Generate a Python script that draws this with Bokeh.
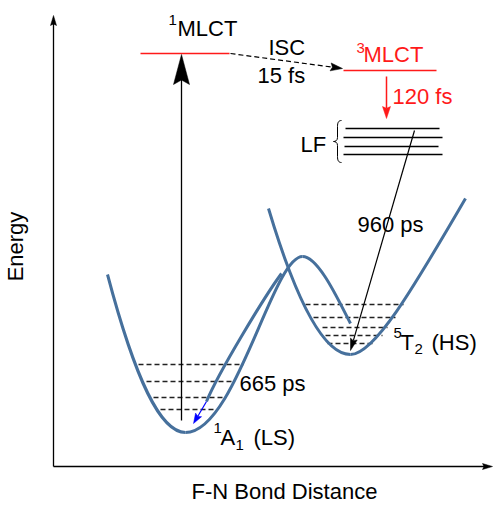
import numpy as np
from bokeh.plotting import figure
from bokeh.models import Range1d
from bokeh.core.properties import value
from bokeh.embed import file_html
from bokeh.resources import INLINE

# ---------------- data (schematic, in picture pixel units) ----------------
# potential-energy curves: cubic Bezier segments (start, ctrl1, ctrl2, end)
# 1A1 (LS) left arm, 1A1 right arm, 1A1 descent, 5T2 (HS) left arm, 5T2 right arm
curve_x0 = [107, 185, 302, 268, 350]
curve_y0 = [274, 432, 256, 208, 354]
curve_cx0 = [135, 235, 318, 297, 375]
curve_cy0 = [380, 432, 256, 305, 354]
curve_cx1 = [160, 272, 338, 324, 417]
curve_cy1 = [432, 256, 300, 354, 280]
curve_x1 = [185, 302, 350, 350, 465]
curve_y1 = [432, 256, 323, 354, 198]

# 665 ps relaxation path drawn along the 1A1 curve
relax_x = [281, 264, 218, 206]
relax_y = [273, 296, 372, 401]

# vibrational levels (dashed)
ls_lvl_y = [364, 381, 397, 409]
ls_lvl_x0 = [138, 146, 153, 160]
ls_lvl_x1 = [243, 232, 225, 215]
hs_lvl_y = [304, 317, 327, 335, 343]
hs_lvl_x0 = [305, 313, 322, 325, 327]
hs_lvl_x1 = [403, 395, 387, 382, 373]

# ligand-field manifold
lf_y = [128, 137, 146, 154]
lf_x0 = [345, 343, 344, 343]
lf_x1 = [439, 442, 438, 442]
lf_brace = dict(x=337, top=120, bottom=162)

# MLCT states (red levels)
mlct_y = [53, 70]
mlct_x0 = [140, 343]
mlct_x1 = [229, 436]

# arrows: start -> end
arrow_x0 = [181, 230, 386, 414, 206, 53, 53]
arrow_y0 = [420, 53, 76, 130, 401, 466, 466]
arrow_x1 = [181, 342, 386, 350, 193, 53, 492]
arrow_y1 = [54, 68, 118, 350, 423, 15, 466]
arrow_color = ["black", "black", "#ff1a1a", "black", "#0000ff", "black", "black"]
arrow_width = [1.3, 1.2, 1.5, 1.2, 1.2, 1.3, 1.3]
arrow_dash = ["solid", "5 3", "solid", "solid", "solid", "solid", "solid"]
head_len = [30, 12, 12, 12, 10, 10, 10]
head_wid = [16, 8, 8, 7, 7, 6, 6]

# texts (x = left edge, y = baseline)
label_text = ["MLCT", "1", "ISC", "15 fs", "MLCT", "3", "120 fs", "LF", "960 ps",
              "665 ps", "1", "A", "1", "(LS)", "5", "T", "2", "(HS)"]
label_x = [177, 168, 268, 257, 363, 356, 392, 300, 357, 239, 213, 220, 235, 253,
           393, 400, 414, 431]
label_y = [36, 25, 55, 83, 62, 53, 104, 152, 232, 391, 433, 445, 450, 445,
           338, 350, 354, 350]
label_size = [22, 15, 22, 22, 22, 15, 22, 22, 22, 22, 15, 22, 15, 22, 15, 22, 15, 22]
label_color = ["black", "black", "black", "black", "#ff1a1a", "#ff1a1a", "#ff1a1a",
               "black", "black", "black", "black", "black", "black", "black",
               "black", "black", "black", "black"]

axis_x_title = "F-N Bond Distance"
axis_y_title = "Energy"

# ---------------- figure ----------------
FONT = value("Liberation Sans")
CURVE = "#46709c"
BASE_SHIFT = 0.38   # renderer's baseline offset, as a fraction of font size

p = figure(width=493, height=505, x_range=Range1d(0, 493), y_range=Range1d(505, 0),
           output_backend="svg", toolbar_location=None, min_border=0,
           x_axis_location=None, y_axis_location=None)
p.grid.visible = False
p.outline_line_color = None
p.background_fill_color = "white"
p.border_fill_color = "white"

# dashed vibrational levels
p.segment(x0=ls_lvl_x0, y0=ls_lvl_y, x1=ls_lvl_x1, y1=ls_lvl_y,
          line_color="#222222", line_width=1.4, line_dash="5 3")
p.segment(x0=hs_lvl_x0, y0=hs_lvl_y, x1=hs_lvl_x1, y1=hs_lvl_y,
          line_color="#222222", line_width=1.4, line_dash="5 3")

# potential energy curves
p.bezier(x0=curve_x0, y0=curve_y0, x1=curve_x1, y1=curve_y1,
         cx0=curve_cx0, cy0=curve_cy0, cx1=curve_cx1, cy1=curve_cy1,
         line_color=CURVE, line_width=3)
p.bezier(x0=[relax_x[0]], y0=[relax_y[0]], cx0=[relax_x[1]], cy0=[relax_y[1]],
         cx1=[relax_x[2]], cy1=[relax_y[2]], x1=[relax_x[3]], y1=[relax_y[3]],
         line_color=CURVE, line_width=3)

# LF manifold
p.segment(x0=lf_x0, y0=lf_y, x1=lf_x1, y1=lf_y, line_color="black", line_width=1.5)
bx, bt, bb = lf_brace["x"], lf_brace["top"], lf_brace["bottom"]
bm = (bt + bb) / 2
p.bezier(x0=[bx + 4, bx, bx, bx + 4], y0=[bt, bm - 4, bm + 4, bb],
         cx0=[bx + 1, bx, bx, bx + 1], cy0=[bt, bm - 1, bm + 1, bb],
         cx1=[bx, bx - 2, bx - 2, bx], cy1=[bt + 2, bm, bm, bb - 2],
         x1=[bx, bx - 4, bx - 4, bx], y1=[bt + 6, bm, bm, bb - 6],
         line_color="black", line_width=1)
p.segment(x0=[bx, bx], y0=[bt + 6, bm + 4], x1=[bx, bx], y1=[bm - 4, bb - 6],
          line_color="black", line_width=1)

# MLCT levels
p.segment(x0=mlct_x0, y0=mlct_y, x1=mlct_x1, y1=mlct_y, line_color="#ff1a1a", line_width=1.6)

# arrows
for i in range(len(arrow_x0)):
    x0, y0, x1, y1 = arrow_x0[i], arrow_y0[i], arrow_x1[i], arrow_y1[i]
    d = np.array([x1 - x0, y1 - y0], float)
    u = d / np.hypot(*d)
    v = np.array([-u[1], u[0]])
    tip = np.array([x1, y1], float)
    L, W = head_len[i], head_wid[i]
    notch = 0.15 * L
    base = tip - L * u
    inner = tip - (L - notch) * u
    pts = [tip, base + W / 2 * v, inner, base - W / 2 * v]
    p.line(x=[x0, inner[0]], y=[y0, inner[1]], line_color=arrow_color[i],
           line_width=arrow_width[i], line_dash=arrow_dash[i])
    p.patch(x=[q[0] for q in pts], y=[q[1] for q in pts], fill_color=arrow_color[i],
            line_color=arrow_color[i], line_width=0.5)

# labels
for i in range(len(label_text)):
    s = label_size[i]
    p.text(x=[label_x[i]], y=[label_y[i] - BASE_SHIFT * s], text=[label_text[i]],
           text_font=FONT, text_font_size=f"{s}px", text_color=label_color[i],
           text_align="left", text_baseline="alphabetic")

p.text(x=[284], y=[499 - BASE_SHIFT * 22], text=[axis_x_title], text_font=FONT,
       text_font_size="22px", text_color="black", text_align="center",
       text_baseline="alphabetic")
p.text(x=[23 - BASE_SHIFT * 22], y=[246], text=[axis_y_title], text_font=FONT,
       text_font_size="22px", text_color="black", text_align="center",
       text_baseline="alphabetic", angle=np.pi / 2)

open("out.html", "w").write(file_html(p, INLINE))
